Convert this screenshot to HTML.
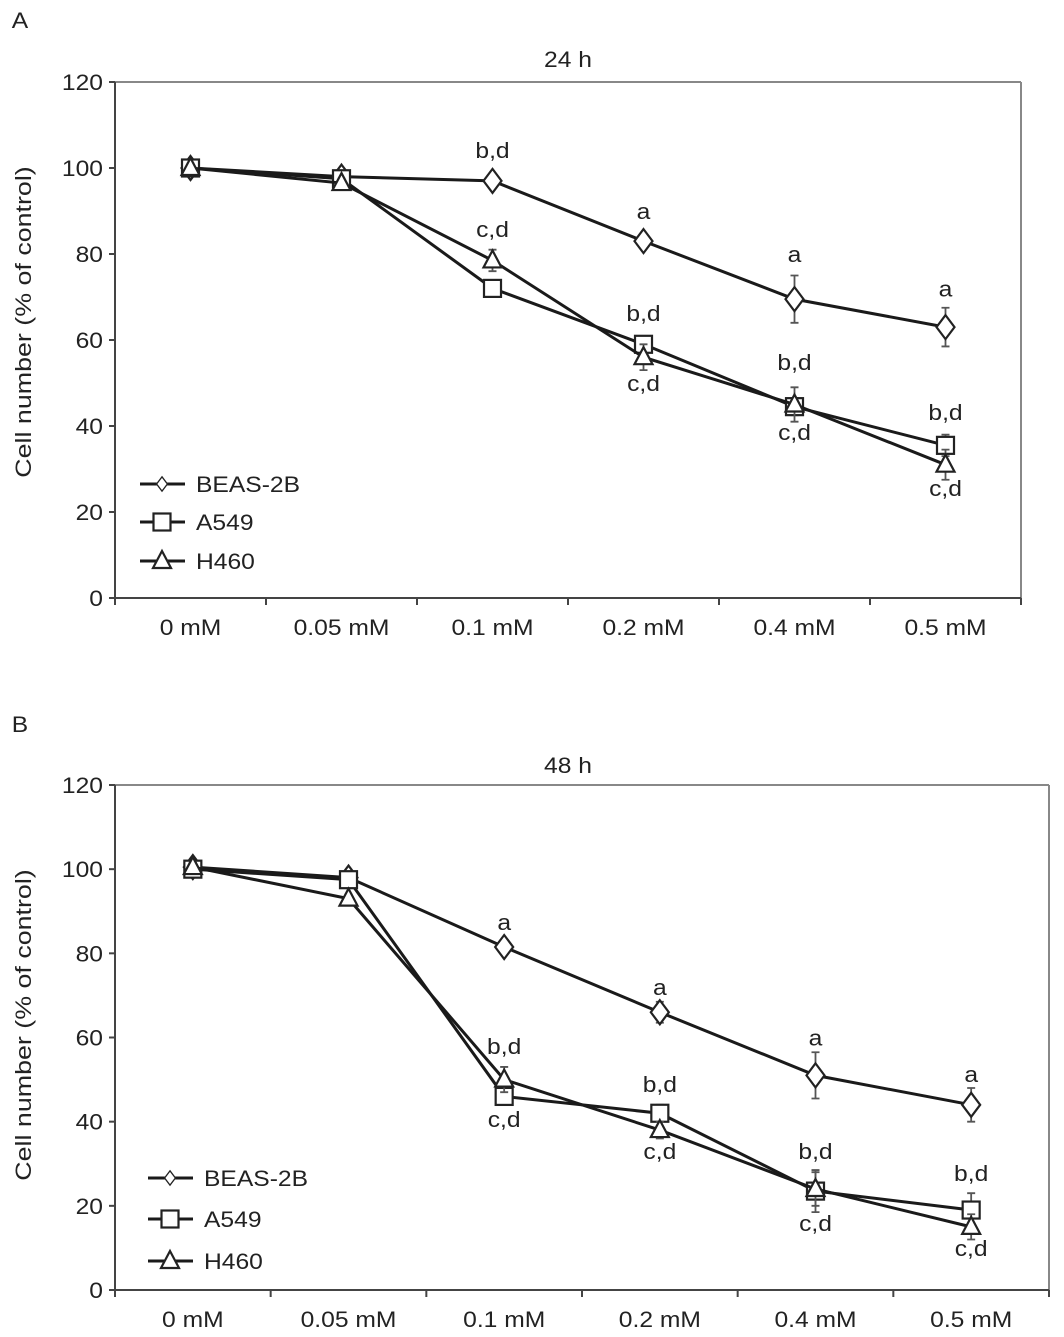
<!DOCTYPE html>
<html><head><meta charset="utf-8"><style>
body{margin:0;background:#fff}
svg{display:block;font-family:"Liberation Sans",Arial,sans-serif}
</style></head><body>
<svg id="s" width="1064" height="1337" xmlns="http://www.w3.org/2000/svg"></svg>
<script>
const categories=["0 mM","0.05 mM","0.1 mM","0.2 mM","0.4 mM","0.5 mM"];
const yTicks=[0,20,40,60,80,100,120];
const seriesNames=["BEAS-2B","A549","H460"];
const a_beas=[100,98,97,83,69.5,63];
const a_beasErr=[1,1,1,1.5,5.5,4.5];
const a_a549=[100,97.5,72,59,44.5,35.5];
const a_a549Err=[1,1,1,1.5,2,2.5];
const a_h460=[100,96.5,78.5,56,45,31];
const a_h460Err=[1,1,2.5,3,4,3.5];
const b_beas=[100.5,98,81.5,66,51,44];
const b_beasErr=[1,1,1,2.5,5.5,4];
const b_a549=[100,97.5,46,42,23.5,19];
const b_a549Err=[1,1,2,2,5,4];
const b_h460=[100.5,93,50,38,24,15];
const b_h460Err=[1,1,3,2,4,3];
const a_annIdx=[2,2,3,3,3,4,4,4,5,5,5];
const a_annVal=[104.2,85.8,90,66.3,50,80,54.9,38.6,72,43.3,25.6];
const a_annTxt=["b,d","c,d","a","b,d","c,d","a","b,d","c,d","a","b,d","c,d"];
const b_annIdx=[2,2,2,3,3,3,4,4,4,5,5,5];
const b_annVal=[87.5,58,40.6,72,49,33,60,33,15.9,51.3,27.8,10];
const b_annTxt=["a","b,d","c,d","a","b,d","c,d","a","b,d","c,d","a","b,d","c,d"];

const S=document.getElementById('s');
const NS="http://www.w3.org/2000/svg";
const SX=1.12, FS=22;
function mk(t,at,p){const e=document.createElementNS(NS,t);for(const k in at)e.setAttribute(k,at[k]);(p||S).appendChild(e);return e;}
function txt(p,x,y,str,anchor){
  const t=mk('text',{x:0,y:0,'font-size':FS,'text-anchor':anchor||'start',fill:'#222',transform:`translate(${x},${y}) scale(${SX},1)`},p);
  t.textContent=str;return t;
}
function marker(g,kind,x,y){
  if(kind===0)return mk('polygon',{points:`${x},${y-12} ${x+9},${y} ${x},${y+12} ${x-9},${y}`,fill:'#fff',stroke:'#222','stroke-width':2.2},g);
  if(kind===1)return mk('rect',{x:x-8.5,y:y-8.5,width:17,height:17,fill:'#fff',stroke:'#222','stroke-width':2.2},g);
  return mk('polygon',{points:`${x},${y-10} ${x+9},${y+7} ${x-9},${y+7}`,fill:'#fff',stroke:'#222','stroke-width':2.2},g);
}
function panel(o){
  const g=mk('g',{});
  
  
  const cw=(o.x1-o.x0)/categories.length;
  const X=i=>o.x0+cw*(i+0.5);
  const Y=v=>o.y0-(o.y0-o.y120)*v/120;
  let t=txt(g,20,o.letterY,o.letter,'middle');
  
  t=txt(g,568,o.titleY,o.title,'middle');
  
  mk('line',{x1:o.x0,y1:Y(120),x2:o.x1,y2:Y(120),stroke:'#888','stroke-width':2},g);
  mk('line',{x1:o.x1,y1:Y(120),x2:o.x1,y2:o.y0,stroke:'#888','stroke-width':2},g);
  const ya=mk('line',{x1:o.x0,y1:Y(120),x2:o.x0,y2:o.y0,stroke:'#444','stroke-width':2},g);
  
  const xa=mk('line',{x1:o.x0,y1:o.y0,x2:o.x1,y2:o.y0,stroke:'#444','stroke-width':2},g);
  
  yTicks.forEach(v=>{
    mk('line',{x1:o.x0-6,y1:Y(v),x2:o.x0,y2:Y(v),stroke:'#444','stroke-width':2},g);
    const l=txt(g,o.x0-12,Y(v)+8,String(v),'end');
    
  });
  for(let i=0;i<=categories.length;i++)mk('line',{x1:o.x0+cw*i,y1:o.y0,x2:o.x0+cw*i,y2:o.y0+7,stroke:'#444','stroke-width':2},g);
  categories.forEach((c,i)=>{
    const l=txt(g,X(i),o.y0+37,c,'middle');
    
  });
  const yt=mk('text',{x:0,y:0,'font-size':FS,'text-anchor':'middle',fill:'#222',transform:`translate(31,${o.titleCY}) rotate(-90) scale(1.22,1)`},g);
  yt.textContent='Cell number (% of control)';
  
  o.series.forEach((s,k)=>{
    const sg=mk('g',{},g);
    
    
    mk('polyline',{points:s.v.map((v,i)=>X(i)+','+Y(v)).join(' '),fill:'none',stroke:'#1a1a1a','stroke-width':3},sg);
    s.v.forEach((v,i)=>{
      const e=s.e[i];
      mk('path',{d:`M${X(i)},${Y(v+e)}V${Y(v-e)}M${X(i)-4},${Y(v+e)}h8M${X(i)-4},${Y(v-e)}h8`,stroke:'#555','stroke-width':1.8,fill:'none'},sg);
    });
    s.v.forEach((v,i)=>{
      const m=marker(sg,k,X(i),Y(v));
      
      
    });
  });
  o.annIdx.forEach((ix,j)=>{
    const l=txt(g,X(ix),Y(o.annVal[j])+8,o.annTxt[j],'middle');
    
    
  });
  seriesNames.forEach((n,k)=>{
    const ly=o.legY[k];
    const lg=mk('g',{},g);
    
    
    mk('line',{x1:o.legX,y1:ly,x2:o.legX+45,y2:ly,stroke:'#1a1a1a','stroke-width':3},lg);
    const m=marker(lg,k,o.legX+22,ly);
    if(k===0)m.setAttribute('transform',`translate(${o.legX+22},${ly}) scale(0.6) translate(${-(o.legX+22)},${-ly})`);
    txt(lg,o.legX+56,ly+8,n,'start');
  });
}
panel({name:'panel-a-24h',letter:'A',letterY:28,title:'24 h',titleY:67,titleCY:322,x0:115,x1:1021,y0:598,y120:82,
  series:[{v:a_beas,e:a_beasErr},{v:a_a549,e:a_a549Err},{v:a_h460,e:a_h460Err}],
  annIdx:a_annIdx,annVal:a_annVal,annTxt:a_annTxt,legX:140,legY:[484,522,561]});
panel({name:'panel-b-48h',letter:'B',letterY:732,title:'48 h',titleY:773,titleCY:1025,x0:115,x1:1049,y0:1290,y120:785,
  series:[{v:b_beas,e:b_beasErr},{v:b_a549,e:b_a549Err},{v:b_h460,e:b_h460Err}],
  annIdx:b_annIdx,annVal:b_annVal,annTxt:b_annTxt,legX:148,legY:[1178,1219,1261]});
</script>
</body></html>
